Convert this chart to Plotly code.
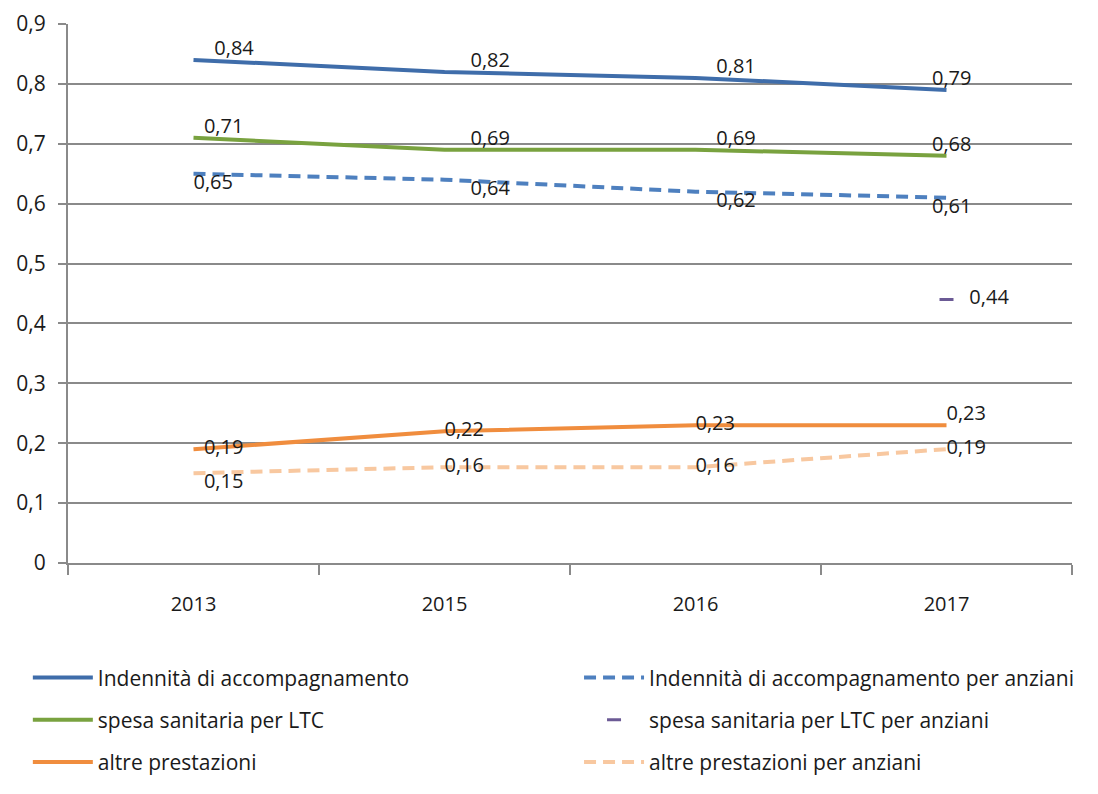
import plotly.graph_objects as go

years = ["2013", "2015", "2016", "2017"]
ind_acc = [0.84, 0.82, 0.81, 0.79]
ind_acc_anz = [0.65, 0.64, 0.62, 0.61]
spesa_ltc = [0.71, 0.69, 0.69, 0.68]
spesa_ltc_anz = [None, None, None, 0.44]
altre = [0.19, 0.22, 0.23, 0.23]
altre_anz = [0.15, 0.16, 0.16, 0.19]

y_ticks = [0, 0.1, 0.2, 0.3, 0.4, 0.5, 0.6, 0.7, 0.8, 0.9]
y_ticktext = ["0", "0,1", "0,2", "0,3", "0,4", "0,5", "0,6", "0,7", "0,8", "0,9"]

FONT = "Open Sans, sans-serif"
TXT = dict(family=FONT, size=20, color="#1a1a1a")
LBL = dict(family=FONT, size=20, color="#1a1a1a")
LEG = dict(family=FONT, size=21, color="#1a1a1a")

def fmt(v, pads):
    return [("" if x is None else "\u00a0" * p + f"{x:.2f}".replace(".", ","))
            for x, p in zip(v, pads)]

fig = go.Figure()

def add(name, vals, color, dash, pos, pads, legend, group):
    fig.add_trace(go.Scatter(
        x=years, y=vals, name=name, mode="lines+text",
        line=dict(color=color, width=4, dash=dash),
        text=fmt(vals, pads), textposition=pos, textfont=LBL,
        legend=legend, legendgroup=group, cliponaxis=False,
    ))

add("Indennità di accompagnamento", ind_acc, "#3F6DAA", "solid",
    ["top right", "top right", "top right", "top center"], [4, 5, 4, 2], "legend", "a")
add("spesa sanitaria per LTC", spesa_ltc, "#79A23F", "solid",
    ["top right", "top right", "top right", "top center"], [2, 5, 4, 2], "legend", "b")
add("altre prestazioni", altre, "#F08D3E", "solid",
    ["middle right", "middle right", "middle right", "top right"], [2, 0, 0, 0], "legend", "c")
add("Indennità di accompagnamento per anziani", ind_acc_anz, "#4E80BF", "12px,7px",
    ["bottom right", "bottom right", "bottom right", "bottom center"], [0, 5, 4, 2], "legend2", "d")

fig.add_trace(go.Scatter(
    x=years, y=spesa_ltc_anz, name="spesa sanitaria per LTC per anziani",
    mode="markers+text",
    marker=dict(symbol="line-ew", size=10, line=dict(color="#6B5A95", width=3)),
    text=fmt(spesa_ltc_anz, [3, 3, 3, 3]), textposition="middle right", textfont=LBL,
    legend="legend2", legendgroup="e", cliponaxis=False,
))

add("altre prestazioni per anziani", altre_anz, "#F8C8A0", "12px,7px",
    ["bottom right", "middle right", "middle right", "middle right"], [2, 0, 0, 0], "legend2", "f")

fig.update_layout(
    width=1098, height=794,
    paper_bgcolor="white", plot_bgcolor="white",
    margin=dict(l=60, r=34, t=16, b=239, autoexpand=False),
    font=dict(family=FONT, size=20, color="#1a1a1a"),
    showlegend=True,
    legend=dict(x=-0.040, y=-0.175, xanchor="left", yanchor="top",
                orientation="v", tracegroupgap=12, font=LEG, itemwidth=60,
                bgcolor="rgba(0,0,0,0)"),
    legend2=dict(x=0.509, y=-0.175, xanchor="left", yanchor="top",
                 orientation="v", tracegroupgap=12, font=LEG, itemwidth=60,
                 bgcolor="rgba(0,0,0,0)"),
)

fig.update_xaxes(
    type="category", range=[-0.5, 3.5], showgrid=False, showline=True,
    linecolor="#8a8a8a", linewidth=2, automargin=False,
    ticks="outside", tickson="boundaries", ticklen=10, tickcolor="#8a8a8a", tickwidth=2,
    tickfont=TXT, zeroline=False, ticklabelstandoff=22,
)
fig.update_yaxes(
    range=[0, 0.9], tickvals=y_ticks, ticktext=y_ticktext, automargin=False,
    showgrid=True, gridcolor="#8a8a8a", gridwidth=1.5,
    showline=True, linecolor="#8a8a8a", linewidth=2,
    ticks="outside", ticklen=8, tickcolor="#8a8a8a", tickwidth=2,
    tickfont=dict(family=FONT, size=21, color="#1a1a1a"), zeroline=False,
    ticklabelstandoff=8,
)

fig.write_html("out.html")
